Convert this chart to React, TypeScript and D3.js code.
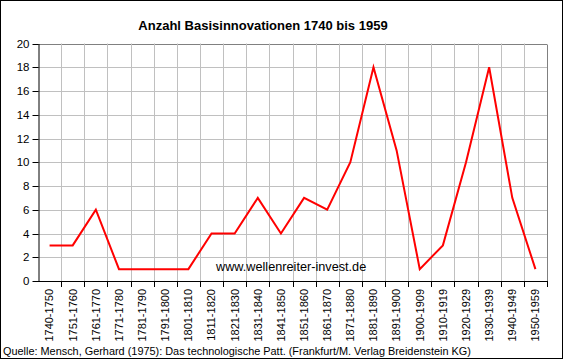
import { FC, useRef, useEffect } from 'react'
import * as d3 from 'd3'

const categories = [
  '1740-1750', '1751-1760', '1761-1770', '1771-1780', '1781-1790', '1791-1800',
  '1801-1810', '1811-1820', '1821-1830', '1831-1840', '1841-1850', '1851-1860',
  '1861-1870', '1871-1880', '1881-1890', '1891-1900', '1900-1909', '1910-1919',
  '1920-1929', '1930-1939', '1940-1949', '1950-1959',
]
const innovations = [3, 3, 6, 1, 1, 1, 1, 4, 4, 7, 4, 7, 6, 10, 18, 11, 1, 3, 10, 18, 7, 1]
const yTicks = [0, 2, 4, 6, 8, 10, 12, 14, 16, 18, 20]

const title = 'Anzahl Basisinnovationen 1740 bis 1959'
const watermark = 'www.wellenreiter-invest.de'
const source = 'Quelle: Mensch, Gerhard (1975): Das technologische Patt. (Frankfurt/M. Verlag Breidenstein KG)'

const font = '"Liberation Sans", Arial, sans-serif'

const App: FC = () => {
  const svgRef = useRef<SVGSVGElement>(null)

  useEffect(() => {
    if (!svgRef.current) return
    const width = 563
    const height = 359
    const plot = { left: 38, right: 547, top: 43.5, bottom: 281 }

    const svg = d3.select(svgRef.current)
    svg.selectAll('*').remove()
    svg.attr('width', width).attr('height', height)

    svg.append('rect')
      .attr('width', width).attr('height', height)
      .attr('fill', '#ffffff')

    svg.append('rect')
      .attr('x', 0.5).attr('y', 0.5)
      .attr('width', width - 1).attr('height', height - 1)
      .attr('fill', 'none')
      .attr('stroke', '#000000')

    const xBand = d3.scaleBand<string>()
      .domain(categories)
      .range([plot.left, plot.right])
      .padding(0)

    const yScale = d3.scaleLinear()
      .domain([0, 20])
      .range([plot.bottom, plot.top])

    const g = svg.append('g')

    // horizontal gridlines
    g.selectAll('.hgrid')
      .data(yTicks.filter(t => t > 0))
      .join('line')
      .attr('x1', plot.left)
      .attr('x2', plot.right)
      .attr('y1', d => Math.round(yScale(d)) + 0.5)
      .attr('y2', d => Math.round(yScale(d)) + 0.5)
      .attr('stroke', d => (d === 20 ? '#808080' : '#c0c0c0'))
      .attr('stroke-width', 1)

    // vertical gridlines at category boundaries
    const boundaries = categories.slice(1).map(c => xBand(c) as number)
    g.selectAll('.vgrid')
      .data(boundaries)
      .join('line')
      .attr('x1', d => Math.round(d) + 0.5)
      .attr('x2', d => Math.round(d) + 0.5)
      .attr('y1', plot.top)
      .attr('y2', plot.bottom)
      .attr('stroke', '#c0c0c0')

    // right border of plot area
    g.append('line')
      .attr('x1', plot.right + 0.5).attr('x2', plot.right + 0.5)
      .attr('y1', Math.round(plot.top) + 0.5).attr('y2', plot.bottom)
      .attr('stroke', '#808080')

    // y axis
    const yAxis = svg.append('g')
      .attr('transform', `translate(${plot.left + 0.5},0)`)
      .call(d3.axisLeft(yScale).tickValues(yTicks).tickSize(6).tickPadding(3).tickSizeOuter(0))
    yAxis.select('.domain').attr('stroke', '#000000')
    yAxis.selectAll('.tick line').attr('stroke', '#000000')
    yAxis.selectAll('.tick').attr('transform', d => `translate(0,${Math.round(yScale(d as number)) + 0.5})`)
    yAxis.selectAll('text')
      .attr('font-family', font)
      .attr('font-size', '11.5px')
      .attr('fill', '#000000')

    // x axis: ticks at category boundaries
    const xAxisG = svg.append('g')
    xAxisG.append('line')
      .attr('x1', plot.left).attr('x2', plot.right + 1)
      .attr('y1', Math.round(plot.bottom) + 0.5).attr('y2', Math.round(plot.bottom) + 0.5)
      .attr('stroke', '#000000')
    xAxisG.selectAll('.xtick')
      .data([...boundaries, plot.right])
      .join('line')
      .attr('x1', d => Math.round(d) + 0.5)
      .attr('x2', d => Math.round(d) + 0.5)
      .attr('y1', Math.round(plot.bottom))
      .attr('y2', Math.round(plot.bottom) + 6)
      .attr('stroke', '#000000')

    xAxisG.selectAll('.xlabel')
      .data(categories)
      .join('text')
      .attr('transform', d => `translate(${(xBand(d) as number) + xBand.bandwidth() / 2},${plot.bottom + 8}) rotate(-90)`)
      .attr('text-anchor', 'end')
      .attr('dy', '0.35em')
      .attr('font-family', font)
      .attr('font-size', '11px')
      .attr('fill', '#000000')
      .text(d => d)

    // data line
    const line = d3.line<number>()
      .x((_, i) => (xBand(categories[i]) as number) + xBand.bandwidth() / 2)
      .y(d => yScale(d))

    svg.append('path')
      .datum(innovations)
      .attr('fill', 'none')
      .attr('stroke', '#ff0000')
      .attr('stroke-width', 2)
      .attr('stroke-linejoin', 'miter')
      .attr('d', line)

    svg.append('text')
      .attr('x', 263)
      .attr('y', 30)
      .attr('text-anchor', 'middle')
      .attr('font-family', font)
      .attr('font-weight', 'bold')
      .attr('font-size', '13px')
      .attr('fill', '#000000')
      .text(title)

    svg.append('text')
      .attr('x', 216)
      .attr('y', 271)
      .attr('font-family', font)
      .attr('font-size', '12.7px')
      .attr('fill', '#000000')
      .text(watermark)

    svg.append('text')
      .attr('x', 3)
      .attr('y', 354.5)
      .attr('font-family', font)
      .attr('font-size', '10.9px')
      .attr('fill', '#000000')
      .text(source)
  }, [])

  return (
    <div style={{ position: 'absolute', left: 0, top: 0 }}>
      <svg ref={svgRef} style={{ display: 'block' }} />
    </div>
  )
}

export default App
